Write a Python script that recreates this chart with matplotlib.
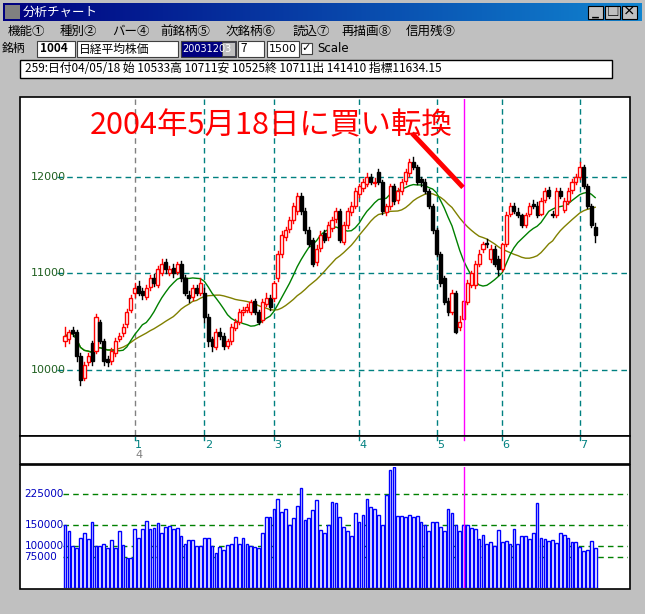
import matplotlib
matplotlib.use("Agg")
import matplotlib.pyplot as plt
from matplotlib.patches import Rectangle
import numpy as np
import pandas as pd

plt.rcParams['font.family'] = ['Noto Sans CJK JP', 'DejaVu Sans']

# ---- data (daily Nikkei 225, 2003-12-03 .. 2004-07) ----
opens = [10300,10320,10420,10400,10150,9920,10080,10280,10200,10500,10300,10120,10090,10180,10320,10380,10480,10620,
         10800,10870,10820,10760,10860,10950,10880,11000,11120,11000,11060,11020,11100,10950,10780,10760,10850,10800,
         10800,10550,10320,10240,10400,10350,10250,10300,10440,10500,10600,10620,10600,10720,10600,10520,10680,10750,
         10750,10950,11200,11380,11460,11550,11650,11800,11650,11450,11350,11120,11260,11420,11380,11470,11560,11650,11330,11500,11640,11700,
         11820,11880,11920,12000,11940,12050,11950,11640,11700,11900,11760,11850,11960,12040,12150,12100,11980,11950,11850,11700,
         11450,11200,10950,10720,10600,10800,10450,10533,10700,10880,10880,11100,11250,11320,11150,11250,11150,
         11050,11300,11620,11700,11640,11600,11500,11620,11720,11700,11620,11760,11860,11620,11600,11850,11660,11750,11860,11950,
         12000,12100,11900,11700,11480]
closes = [10350,10400,10380,10150,9900,10050,10150,10100,10550,10300,10100,10080,10200,10300,10350,10450,10600,10750,
          10850,10800,10780,10850,10950,10900,11050,11100,11050,11050,11000,11100,10950,10800,10750,10850,10800,10900,
          10550,10300,10250,10400,10350,10250,10300,10450,10500,10600,10620,10650,10700,10600,10500,10700,10750,10650,
          10900,11200,11400,11450,11550,11700,11800,11650,11450,11300,11100,11250,11400,11350,11500,11550,11650,11350,11500,11650,11700,11850,
          11900,11950,12000,11950,11950,11950,11650,11700,11900,11750,11850,11950,12050,12150,12100,11950,11950,11850,11700,11450,
          11200,10900,10700,10600,10800,10400,10500,10711,10900,11000,11100,11200,11300,11300,11250,11100,11050,
          11300,11600,11700,11650,11600,11500,11600,11700,11700,11600,11750,11850,11800,11600,11850,11800,11750,11850,11950,12000,
          12100,11900,11700,11500,11400]
highs = [10450,10420,10450,10420,10180,10080,10180,10300,10580,10520,10320,10150,10230,10330,10380,10480,10630,10780,
         10900,10920,10850,10880,10980,10990,11080,11150,11150,11080,11100,11120,11130,10980,10820,10880,10880,10950,
         10850,10580,10340,10430,10440,10380,10320,10480,10530,10630,10650,10680,10730,10740,10620,10740,10800,10780,
         10920,11230,11440,11480,11580,11730,11830,11830,11680,11480,11370,11290,11440,11450,11530,11580,11680,11670,11530,11680,11740,11880,
         11930,11980,12040,12030,11990,12080,11970,11720,11930,11920,11880,11980,12080,12180,12200,12120,12000,11980,11870,11720,
         11470,11220,10970,10750,10830,10820,10560,10711,10930,11030,11130,11240,11330,11360,11290,11280,11180,
         11320,11640,11730,11730,11680,11620,11630,11730,11760,11740,11780,11880,11890,11650,11880,11880,11780,11880,11980,12030,
         12150,12120,11920,11720,11520]
lows = [10250,10280,10350,10100,9850,9900,10050,10050,10180,10280,10050,10040,10060,10150,10300,10350,10450,10600,
        10760,10780,10740,10740,10830,10870,10860,10980,11000,10980,10960,10990,10920,10780,10700,10730,10780,10780,
        10500,10250,10200,10220,10320,10220,10230,10270,10420,10480,10570,10600,10580,10580,10480,10500,10660,10620,
        10720,10920,11170,11350,11430,11520,11620,11620,11420,11280,11080,11090,11230,11330,11350,11440,11530,11330,11300,11470,11600,11680,
        11790,11850,11900,11920,11900,11930,11620,11600,11670,11720,11730,11820,11930,12010,12080,11930,11900,11830,11680,11420,
        11180,10870,10680,10570,10580,10380,10420,10525,10680,10860,10850,11080,11220,11270,11120,11080,10980,
        11030,11280,11590,11630,11580,11480,11480,11590,11680,11580,11600,11740,11780,11580,11580,11780,11640,11720,11830,11920,
        11980,11880,11680,11480,11330]
volumes = [150,136,101,96,120,132,118,157,101,101,106,96,114,96,136,103,73,73,142,120,
           142,160,141,145,155,133,147,149,141,145,125,106,114,114,101,101,120,120,101,84,
           98,90,103,106,123,106,120,106,101,98,96,133,169,169,189,213,181,189,152,167,
           196,240,162,167,187,211,138,133,150,207,203,169,147,137,125,179,159,176,213,193,
           189,176,150,223,284,289,172,172,169,174,169,172,157,150,137,157,157,147,137,189,
           179,152,137,150,152,145,142,118,128,106,111,101,140,111,113,106,142,106,125,125,
           118,133,203,120,118,113,115,108,133,128,120,111,111,98,89,91,113,96]
month_labels = ["1", "2", "3", "4", "5", "6", "7"]
month_start = [18, 36, 54, 76, 96, 113, 133]
price_ticks = [10000, 11000, 12000]
vol_ticks = [75000, 100000, 150000, 225000, 300000]
signal_idx = 103  # 2004/05/18

n = len(closes)
xs = np.arange(n)
ma_short = pd.Series(closes).rolling(13, min_periods=1).mean()
ma_long = pd.Series(closes).rolling(26, min_periods=1).mean()

W, H = 645, 614
GRAY = "#c0c0c0"
TEAL = "#008080"
fig = plt.figure(figsize=(W / 100, H / 100), dpi=100, facecolor=GRAY)


def px_axes(x0, y0, x1, y1, **kw):
    return fig.add_axes([x0 / W, 1 - y1 / H, (x1 - x0) / W, (y1 - y0) / H], **kw)


bg = px_axes(0, 0, W, H)
bg.set_xlim(0, W)
bg.set_ylim(H, 0)
bg.axis("off")
bg.set_facecolor(GRAY)

# title bar
grad = np.linspace(0, 1, 256).reshape(1, -1)
bg.imshow(grad, extent=(3, 642, 21, 3), cmap=matplotlib.colors.LinearSegmentedColormap.from_list(
    "t", ["#000080", "#1084d0"]), aspect="auto", zorder=1)
bg.add_patch(Rectangle((5, 5), 15, 14, facecolor="#808080", edgecolor="none", zorder=2))
bg.text(23, 12, "分析チャート", color="white", fontsize=9, va="center", zorder=3)
for bx, sym in [(588, "_"), (605, "□"), (622, "×")]:
    bg.add_patch(Rectangle((bx, 6), 15, 13, facecolor=GRAY, edgecolor="black", lw=0.8, zorder=3))
    bg.text(bx + 7.5, 12.5, sym, fontsize=9, ha="center", va="center", fontweight="bold", zorder=4)

# menu
for mx, label in [(8, "機能①"), (60, "種別②"), (112, "バー④"), (160, "前銘柄⑤"), (226, "次銘柄⑥"),
                  (293, "読込⑦"), (342, "再描画⑧"), (406, "信用残⑨")]:
    bg.text(mx, 31, label, fontsize=9, va="center")

# code row
bg.text(2, 48, "銘柄", fontsize=8.5, va="center")
for x0, x1, fc in [(37, 75, "white"), (77, 178, "white"), (181, 236, "#000080"), (238, 264, "white"), (267, 299, "white")]:
    bg.add_patch(Rectangle((x0, 41), x1 - x0, 16, facecolor=fc, edgecolor="#404040", lw=0.8))
bg.text(40, 49, "1004", fontsize=8.5, va="center", fontweight="bold")
bg.text(79, 49, "日経平均株価", fontsize=8.5, va="center")
bg.text(182, 49, "20031203", fontsize=7, va="center", color="white", family="DejaVu Sans")
bg.add_patch(Rectangle((222, 42), 13, 14, facecolor=GRAY, edgecolor="#404040", lw=0.6))
bg.text(240, 49, "7", fontsize=8.5, va="center")
bg.text(269, 49, "1500", fontsize=8, va="center", family="DejaVu Sans")
bg.add_patch(Rectangle((301, 43), 11, 11, facecolor="white", edgecolor="#404040", lw=0.8))
bg.text(306.5, 48.5, "✓", fontsize=8, ha="center", va="center", fontweight="bold", family="DejaVu Sans")
bg.text(317, 49, "Scale", fontsize=8.5, va="center", family="DejaVu Sans")

# info line
bg.add_patch(Rectangle((20, 60), 592, 18, facecolor="white", edgecolor="black", lw=1))
bg.text(25, 69, "259:日付04/05/18 始 10533高 10711安 10525終 10711出 141410 指標11634.15",
        fontsize=8.5, va="center")

# frames of the three panels
for y0, y1 in [(97, 436), (436, 464), (465, 589)]:
    bg.add_patch(Rectangle((20, y0), 610, y1 - y0, facecolor="white", edgecolor="black", lw=1.2, zorder=0))

X0, STEP = 65, 3.87
xl = (-(X0 - 22) / STEP, (628 - X0) / STEP)

# ---- price panel ----
ax = px_axes(22, 99, 628, 435)
ax.set_xlim(*xl)
ax.set_ylim(9330, 12804)
ax.axis("off")
for t in price_ticks:
    ax.axhline(t, xmin=(57 - 22) / 606, color=TEAL, ls=(0, (4, 3)), lw=1)
    ax.text(xl[0] + 2.3, t, f"{t}", color="#1f5f1f", fontsize=8, va="center", family="DejaVu Sans")
for k, m in enumerate(month_start):
    ax.axvline(m, color="#808080" if k == 0 else TEAL, ls=(0, (4, 3)), lw=1)
ax.axvline(signal_idx, color="magenta", lw=1, zorder=5)
ax.plot(xs, ma_long, color="#808000", lw=1)
ax.plot(xs, ma_short, color="#008000", lw=1)
for i in range(n):
    o, c, h, l = opens[i], closes[i], highs[i], lows[i]
    col = "red" if c >= o else "black"
    ax.plot([i, i], [l, h], color=col, lw=1, zorder=3)
    ax.add_patch(Rectangle((i - 0.4, min(o, c)), 0.8, max(abs(c - o), 8),
                           facecolor="white" if c >= o else "black", edgecolor=col, lw=1, zorder=4))
ax.text(6.5, 12530, "2004年5月18日に買い転換", color="red", fontsize=22, va="center", zorder=6)
ax.plot([xl[0] + (412 - 22) / STEP, xl[0] + (463 - 22) / STEP], [12450, 11890], color="red", lw=3.5,
        solid_capstyle="butt", zorder=6)

# ---- date strip ----
dx = px_axes(22, 437, 628, 463)
dx.set_xlim(*xl)
dx.set_ylim(26, 0)
dx.axis("off")
for lab, m in zip(month_labels, month_start):
    dx.plot([m, m], [0, 3], color=TEAL, lw=1)
    dx.text(m + 1, 8, lab, color=TEAL, fontsize=8, ha="center", va="center", family="DejaVu Sans")
dx.text(month_start[0] + 1, 18, "4", color="#808080", fontsize=8, ha="center", va="center", family="DejaVu Sans")
dx.plot([signal_idx, signal_idx], [0, 3], color="magenta", lw=1)

# ---- volume panel ----
vx = px_axes(22, 467, 628, 588)
vx.set_xlim(*xl)
vx.set_ylim(0, 290000)
vx.axis("off")
for t in vol_ticks:
    vx.axhline(t, xmin=(63 - 22) / 606, color="green", ls=(0, (4, 3)), lw=1)
    vx.text(xl[0] + 0.6, t, f"{t}", color="#0000c0", fontsize=7.5, va="center",
            family="DejaVu Sans", clip_on=True)
vx.bar(xs, [v * 1000 for v in volumes], width=0.7, facecolor="white", edgecolor="blue", lw=1, zorder=3)
vx.axvline(signal_idx, color="magenta", lw=1, zorder=5)

fig.savefig("out.png", dpi=100, facecolor=GRAY)
